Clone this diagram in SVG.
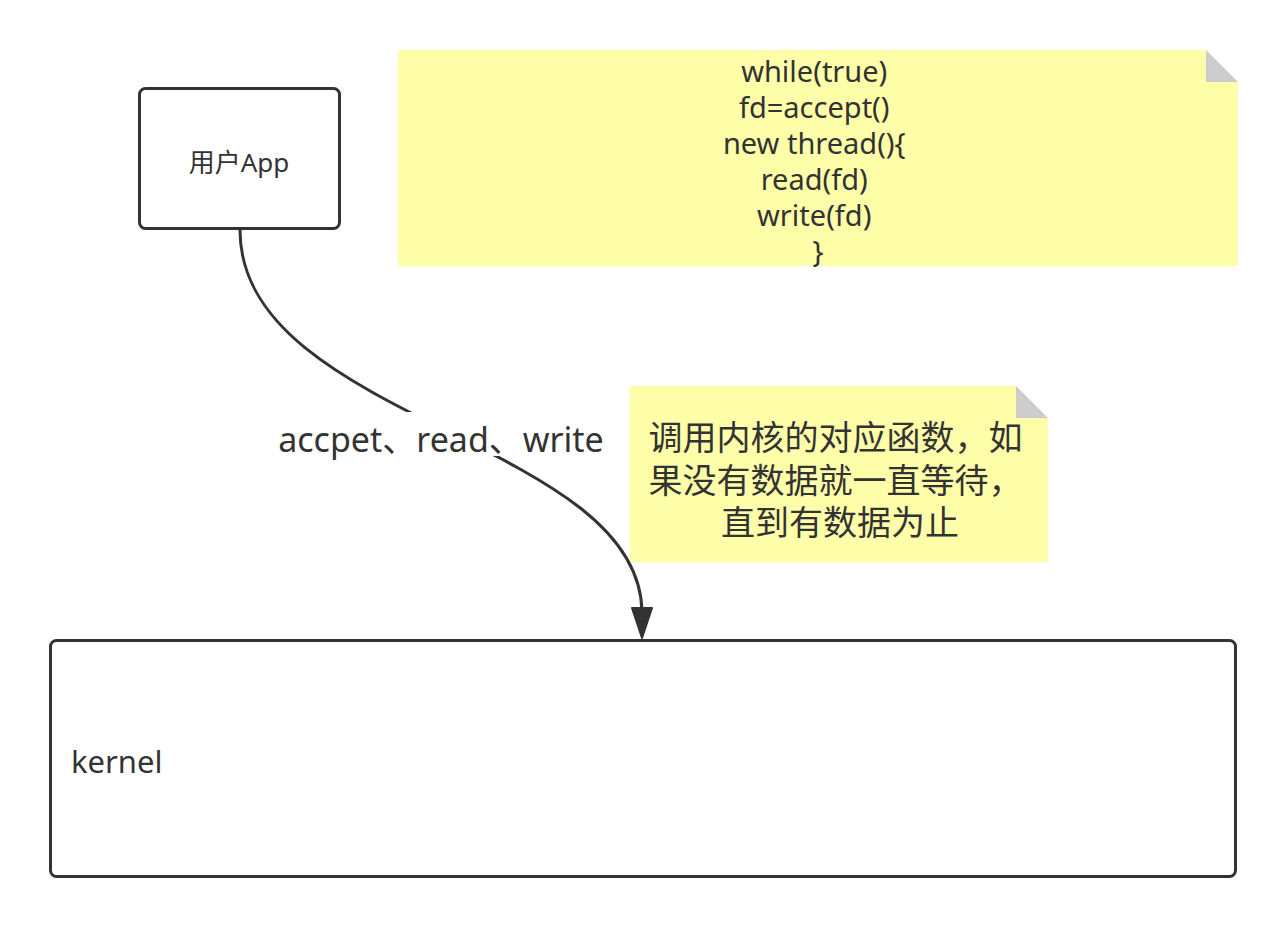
<svg xmlns="http://www.w3.org/2000/svg" width="1287" height="927" viewBox="0 0 1287 927">
<defs>
<style>
.box{fill:#fff;stroke:#333;stroke-width:3}
.note{fill:#ffffaa}
.fold{fill:#cccccc}
.t{font-family:"Noto Sans","Noto Sans CJK SC",sans-serif;fill:#333}
.conn{fill:none;stroke:#333;stroke-width:3}
</style>
</defs>
<rect width="1287" height="927" fill="#fff"/>
<g id="connectors">
<path class="conn" d="M240,230 C240,420 640,440 642,612"/>
<polygon points="642,638 632,608 652,608" fill="#333" stroke="#333" stroke-width="2" stroke-linejoin="round"/>
<rect x="275" y="412" width="332" height="44" fill="#fff"/>
<text class="t" x="441" y="452" font-size="34" text-anchor="middle">accpet、read、write</text>
</g>
<g id="app">
<rect class="box" x="139.5" y="88.5" width="200" height="140" rx="6"/>
<text class="t" x="239" y="172" font-size="26" text-anchor="middle">用户App</text>
</g>
<g id="note1">
<path class="note" d="M398,50 H1206 L1238,82 V266 H398 Z"/>
<path class="fold" d="M1206,50 L1238,82 H1206 Z"/>
<text class="t" font-size="29" text-anchor="middle">
<tspan x="818" y="82">while(true)</tspan>
<tspan x="818" y="118">fd=accept()</tspan>
<tspan x="818" y="154">new thread(){</tspan>
<tspan x="818" y="190">read(fd)</tspan>
<tspan x="818" y="226">write(fd)</tspan>
<tspan x="818" y="262">}</tspan>
</text>
</g>
<g id="note2">
<path class="note" d="M630,386 H1016 L1048,418 V562 H630 Z"/>
<path class="fold" d="M1016,386 L1048,418 H1016 Z"/>
<text class="t" font-size="34" text-anchor="middle">
<tspan x="840" y="450">调用内核的对应函数，如</tspan>
<tspan x="840" y="493">果没有数据就一直等待，</tspan>
<tspan x="840" y="535">直到有数据为止</tspan>
</text>
</g>
<g id="kernel">
<rect class="box" x="50.5" y="640.5" width="1185" height="236" rx="6"/>
<text class="t" x="71" y="773" font-size="31">kernel</text>
</g>
</svg>
